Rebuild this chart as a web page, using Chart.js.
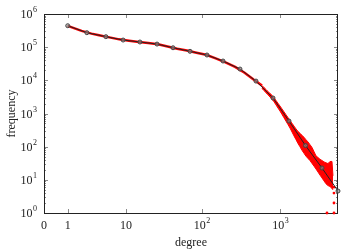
<!DOCTYPE html>
<html>
<head>
<meta charset="utf-8">
<script src="https://cdn.jsdelivr.net/npm/chart.js@4/dist/chart.umd.min.js"></script>
<style>
  html, body { margin: 0; padding: 0; background: #fff; }
  #chart { display: block; }
</style>
</head>
<body>
<canvas id="chart" width="360" height="252"></canvas>
<script>
// Degree distribution, log-log (x axis is log(degree + 1) so that 0 fits)

const degreeTicks = [0, 1, 10, 100, 1000];
const degreeTickLabels = ['0', '1', '10', '10^2', '10^3'];
const freqTicks = [1, 10, 100, 1e3, 1e4, 1e5, 1e6];
const freqTickLabels = ['10^0', '10^1', '10^2', '10^3', '10^4', '10^5', '10^6'];
const minorMultipliers = [2, 3, 4, 5, 6, 7, 8, 9];

// black binned curve with markers
const binnedDegree = [1, 2.5, 5.1, 9.1, 15.5, 26.2, 42.4, 70.3, 116, 186, 306, 489, 805, 1285, 2081, 3373, 5383];
const binnedFreq = [4.43e5, 2.73e5, 2.07e5, 1.64e5, 1.43e5, 1.24e5, 9.6e4, 7.5e4, 5.8e4, 3.82e4, 2.19e4, 9.5e3, 2930, 594, 108, 22.7, 4.6];

// red raw counts, smooth part
const rawDegree = [1, 2, 3, 4, 6, 8, 11, 15, 20, 27, 36, 48, 64, 85, 113, 150, 200, 265, 350, 460];
const rawFreq = [4.4e5, 3.1e5, 2.56e5, 2.28e5, 1.94e5, 1.72e5, 1.57e5, 1.44e5, 1.33e5, 1.22e5, 1.05e5, 9.0e4, 7.9e4, 6.8e4, 5.9e4, 4.6e4, 3.5e4, 2.54e4, 1.7e4, 1.04e4];

// red raw counts, noisy tail (upper / lower edge of the scatter)
const bandDegree = [583, 618, 656, 695, 737, 781, 829, 879, 931, 987, 1047, 1110, 1177, 1248, 1323, 1403, 1487, 1577,
  1671, 1773, 1879, 1992, 2112, 2239, 2374, 2517, 2668, 2829, 2999, 3180, 3371, 3574, 3789, 4017, 4258, 4515, 4648];
const bandUpper = [6982, 6076, 5289, 4603, 4006, 3535, 2994, 2465, 2029, 1682, 1375, 1125, 919, 752, 615, 506, 417, 343,
  288, 253, 220, 191.5, 162, 139, 115, 95, 71, 53, 47.1, 41.6, 38.3, 34.7, 32.6, 30.9, 35.7, 35.9, 13.2];
const bandLower = [5669, 4934, 4206, 3660, 3142, 2697, 2252, 1816, 1464, 1189, 939, 742, 586, 463, 365, 277, 211, 163,
  125, 99, 77.7, 63, 51.6, 44.3, 38, 31.3, 25.9, 21.2, 17.2, 13.9, 11.4, 9.3, 7.6, 6.7, 6.3, 5.5, 5.0];

// isolated red points at the far end
const tailDegree = [4786, 4786, 4786, 4786, 3901];
const tailFreq = [6, 4, 2, 1, 1];

const toXY = (degs, vals) => degs.map((d, i) => ({ x: d + 1, y: vals[i] }));

const smoothPoints = toXY(rawDegree, rawFreq);
smoothPoints.push({ x: bandDegree[0] + 1, y: bandUpper[0] });

const FONT = '"Liberation Serif", "DejaVu Serif", serif';
const TEXT = '#222';
const RED = '#f00';

function drawPow(ctx, label, x, y, align) {
  const parts = label.split('^');
  ctx.font = '12px ' + FONT;
  const wb = ctx.measureText(parts[0]).width;
  ctx.font = '8px ' + FONT;
  const we = parts[1] ? ctx.measureText(parts[1]).width + 0.5 : 0;
  const total = wb + we;
  const start = align === 'right' ? x - total : x - total / 2;
  ctx.textAlign = 'left';
  ctx.textBaseline = 'middle';
  ctx.font = '12px ' + FONT;
  ctx.fillText(parts[0], start, y);
  if (parts[1]) {
    ctx.font = '8px ' + FONT;
    ctx.fillText(parts[1], start + wb + 0.5, y - 5);
  }
}

function tick(ctx, x1, y1, x2, y2) {
  ctx.beginPath();
  ctx.moveTo(x1, y1);
  ctx.lineTo(x2, y2);
  ctx.stroke();
}

const frameAndTicks = {
  id: 'frameAndTicks',
  beforeDatasetsDraw(chart) {
    const { ctx, chartArea: a, scales } = chart;
    const x = scales.x, y = scales.y;
    ctx.save();
    ctx.lineWidth = 1;
    ctx.strokeStyle = '#8a8a8a';
    degreeTicks.forEach(d => {
      const px = Math.round(x.getPixelForValue(d + 1)) + 0.5;
      tick(ctx, px, a.bottom, px, a.bottom - 4);
      tick(ctx, px, a.top, px, a.top + 4);
    });
    freqTicks.forEach((v, i) => {
      const py = Math.round(y.getPixelForValue(v)) + 0.5;
      tick(ctx, a.left, py, a.left + 4, py);
      tick(ctx, a.right, py, a.right - 4, py);
      if (i === freqTicks.length - 1) return;
      minorMultipliers.forEach(m => {
        const my = Math.round(y.getPixelForValue(v * m)) + 0.5;
        tick(ctx, a.left, my, a.left + 2, my);
        tick(ctx, a.right, my, a.right - 2, my);
      });
    });
    ctx.strokeStyle = '#222';
    ctx.strokeRect(a.left + 0.5, a.top + 0.5, a.right - a.left - 1, a.bottom - a.top);
    ctx.restore();
  },
  afterDraw(chart) {
    const { ctx, chartArea: a, scales } = chart;
    const x = scales.x, y = scales.y;
    ctx.save();
    ctx.fillStyle = TEXT;
    degreeTicks.forEach((d, i) => {
      drawPow(ctx, degreeTickLabels[i], x.getPixelForValue(d + 1), a.bottom + 13, 'center');
    });
    freqTicks.forEach((v, i) => {
      drawPow(ctx, freqTickLabels[i], a.left - 7, y.getPixelForValue(v) + 1, 'right');
    });
    ctx.font = '12px ' + FONT;
    ctx.textAlign = 'center';
    ctx.textBaseline = 'middle';
    ctx.fillText('degree', (a.left + a.right) / 2, 243);
    ctx.translate(12, (a.top + a.bottom) / 2);
    ctx.rotate(-Math.PI / 2);
    ctx.fillText('frequency', 0, 0);
    ctx.restore();
  }
};

new Chart(document.getElementById('chart'), {
  type: 'scatter',
  data: {
    datasets: [
      {
        label: 'raw',
        data: smoothPoints,
        showLine: true,
        borderColor: RED,
        borderWidth: 2.5,
        pointRadius: 0,
        order: 5
      },
      {
        label: 'raw tail upper',
        data: toXY(bandDegree, bandUpper),
        showLine: true,
        borderColor: RED,
        borderWidth: 1,
        backgroundColor: RED,
        fill: '+1',
        pointRadius: 0,
        order: 4
      },
      {
        label: 'raw tail lower',
        data: toXY(bandDegree, bandLower),
        showLine: true,
        borderColor: RED,
        borderWidth: 1,
        pointRadius: 0,
        order: 3
      },
      {
        label: 'tail',
        data: toXY(tailDegree, tailFreq),
        pointRadius: 1.4,
        pointBorderWidth: 0,
        pointBackgroundColor: RED,
        clip: false,
        order: 2
      },
      {
        label: 'binned',
        data: toXY(binnedDegree, binnedFreq),
        showLine: true,
        borderColor: '#222',
        borderWidth: 1,
        pointRadius: 2,
        pointBorderWidth: 1,
        pointBorderColor: '#444',
        pointBackgroundColor: 'rgba(140,140,140,0.6)',
        clip: false,
        order: 1
      }
    ]
  },
  options: {
    responsive: false,
    animation: false,
    devicePixelRatio: 1,
    layout: { padding: { left: 44, right: 22, top: 14, bottom: 39 } },
    scales: {
      x: { type: 'logarithmic', min: 1, max: 5384, display: false },
      y: { type: 'logarithmic', min: 1, max: 1e6, display: false }
    },
    plugins: {
      legend: { display: false },
      tooltip: { enabled: false }
    }
  },
  plugins: [frameAndTicks]
});
</script>
</body>
</html>
